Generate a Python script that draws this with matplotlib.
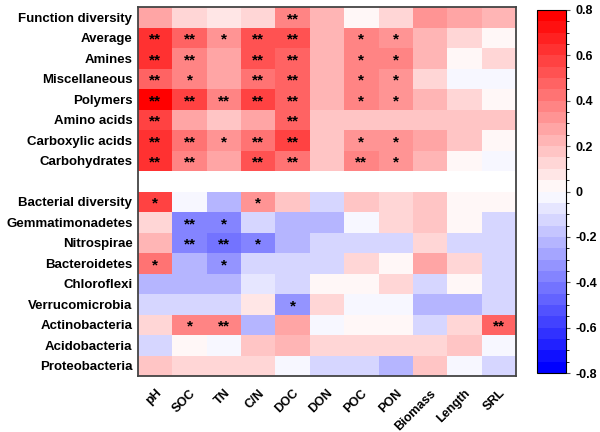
import numpy as np
import matplotlib
matplotlib.use("Agg")
import matplotlib.pyplot as plt
from matplotlib.colors import LinearSegmentedColormap, BoundaryNorm

plt.rcParams['font.family'] = ['Liberation Sans', 'DejaVu Sans']
plt.rcParams['font.weight'] = 'bold'

columns = ["pH", "SOC", "TN", "C/N", "DOC", "DON", "POC", "PON", "Biomass", "Length", "SRL"]
rows = ["Function diversity", "Average", "Amines", "Miscellaneous", "Polymers", "Amino acids",
        "Carboxylic acids", "Carbohydrates", "",
        "Bacterial diversity", "Gemmatimonadetes", "Nitrospirae", "Bacteroidetes", "Chloroflexi",
        "Verrucomicrobia", "Actinobacteria", "Acidobacteria", "Proteobacteria"]

nan = np.nan
values = [
    [0.25, 0.12, 0.07, 0.12, 0.40, 0.20, 0.03, 0.12, 0.32, 0.28, 0.22],
    [0.65, 0.45, 0.35, 0.50, 0.50, 0.22, 0.38, 0.35, 0.20, 0.10, 0.04],
    [0.65, 0.38, 0.28, 0.52, 0.45, 0.22, 0.38, 0.40, 0.20, 0.03, 0.12],
    [0.48, 0.38, 0.28, 0.42, 0.45, 0.22, 0.38, 0.32, 0.10, -0.03, -0.03],
    [0.78, 0.55, 0.38, 0.55, 0.48, 0.22, 0.38, 0.32, 0.20, 0.10, 0.05],
    [0.55, 0.30, 0.18, 0.30, 0.45, 0.18, 0.18, 0.18, 0.18, 0.17, 0.18],
    [0.62, 0.42, 0.35, 0.42, 0.58, 0.18, 0.35, 0.32, 0.25, 0.17, 0.04],
    [0.65, 0.38, 0.25, 0.50, 0.42, 0.18, 0.40, 0.33, 0.20, 0.03, -0.03],
    [nan] * 11,
    [0.60, -0.03, -0.20, 0.32, 0.17, -0.15, 0.17, 0.12, 0.17, 0.04, 0.04],
    [0.15, -0.38, -0.38, -0.10, -0.25, -0.25, -0.03, 0.12, 0.17, 0.04, -0.15],
    [0.20, -0.38, -0.45, -0.38, -0.25, -0.10, -0.15, -0.10, 0.12, -0.10, -0.10],
    [0.42, -0.25, -0.32, -0.14, -0.15, -0.15, 0.12, 0.03, 0.25, 0.12, -0.15],
    [-0.25, -0.20, -0.20, -0.08, -0.15, 0.03, 0.03, 0.12, -0.10, 0.03, -0.10],
    [-0.14, -0.14, -0.14, 0.08, -0.35, 0.10, -0.03, -0.03, -0.20, -0.20, -0.15],
    [0.12, 0.38, 0.38, -0.22, 0.30, -0.03, 0.03, 0.03, -0.10, 0.12, 0.45],
    [-0.14, 0.03, -0.03, 0.17, 0.22, 0.10, 0.10, 0.10, 0.10, 0.17, -0.03],
    [0.17, 0.15, 0.15, 0.15, -0.03, -0.10, -0.10, -0.25, 0.17, -0.03, -0.10],
]

signif = [
    ["", "", "", "", "**", "", "", "", "", "", ""],
    ["**", "**", "*", "**", "**", "", "*", "*", "", "", ""],
    ["**", "**", "", "**", "**", "", "*", "*", "", "", ""],
    ["**", "*", "", "**", "**", "", "*", "*", "", "", ""],
    ["**", "**", "**", "**", "**", "", "*", "*", "", "", ""],
    ["**", "", "", "", "**", "", "", "", "", "", ""],
    ["**", "**", "*", "**", "**", "", "*", "*", "", "", ""],
    ["**", "**", "", "**", "**", "", "**", "*", "", "", ""],
    [""] * 11,
    ["*", "", "", "*", "", "", "", "", "", "", ""],
    ["", "**", "*", "", "", "", "", "", "", "", ""],
    ["", "**", "**", "*", "", "", "", "", "", "", ""],
    ["*", "", "*", "", "", "", "", "", "", "", ""],
    [""] * 11,
    ["", "", "", "", "*", "", "", "", "", "", ""],
    ["", "*", "**", "", "", "", "", "", "", "", "**"],
    [""] * 11,
    [""] * 11,
]

cbar_ticks = [-0.8, -0.6, -0.4, -0.2, 0.0, 0.2, 0.4, 0.6, 0.8]
cbar_labels = ["-0.8", "-0.6", "-0.4", "-0.2", "0", "0.2", "0.4", "0.6", "0.8"]

data = np.ma.masked_invalid(np.array(values, dtype=float))

cmap = LinearSegmentedColormap.from_list("bwr_steps", [(0, 0, 1), (1, 1, 1), (1, 0, 0)], N=32)
bounds = np.linspace(-0.8, 0.8, 33)
norm = BoundaryNorm(bounds, cmap.N)
cmap.set_bad((1, 1, 1, 0))

fig = plt.figure(figsize=(6.0, 4.32), dpi=100)
ax = fig.add_axes([138 / 600, 1 - 376 / 432, 378 / 600, 369 / 432])
cax = fig.add_axes([537 / 600, 1 - 373 / 432, 29 / 600, 363 / 432])

nr, nc = data.shape
mesh = ax.pcolormesh(np.arange(nc + 1), np.arange(nr + 1), data, cmap=cmap, norm=norm)
ax.set_xlim(0, nc)
ax.set_ylim(nr, 0)

for i in range(nr):
    for j in range(nc):
        s = signif[i][j]
        if s:
            ax.text(j + 0.5, i + 0.6, s, ha='center', va='center', fontsize=11,
                    fontweight='bold', color='black')

ax.set_xticks(np.arange(nc) + 0.5)
ax.set_xticklabels(columns, rotation=45, ha='right', rotation_mode='anchor',
                   fontsize=9, fontweight='bold')
ax.set_yticks(np.arange(nr) + 0.5)
ax.set_yticklabels(rows, fontsize=9.5, fontweight='bold')
ax.tick_params(axis='both', length=0, pad=4)
ax.tick_params(axis='x', pad=8)
for sp in ax.spines.values():
    sp.set_color('#444444')
    sp.set_linewidth(1.3)

cb = fig.colorbar(mesh, cax=cax, ticks=cbar_ticks)
cb.ax.set_yticklabels(cbar_labels, fontsize=9, fontweight='bold')
cb.ax.tick_params(length=3, width=0.8, color='#555555')
cb.outline.set_linewidth(0.8)

fig.savefig("out.png", dpi=100)
